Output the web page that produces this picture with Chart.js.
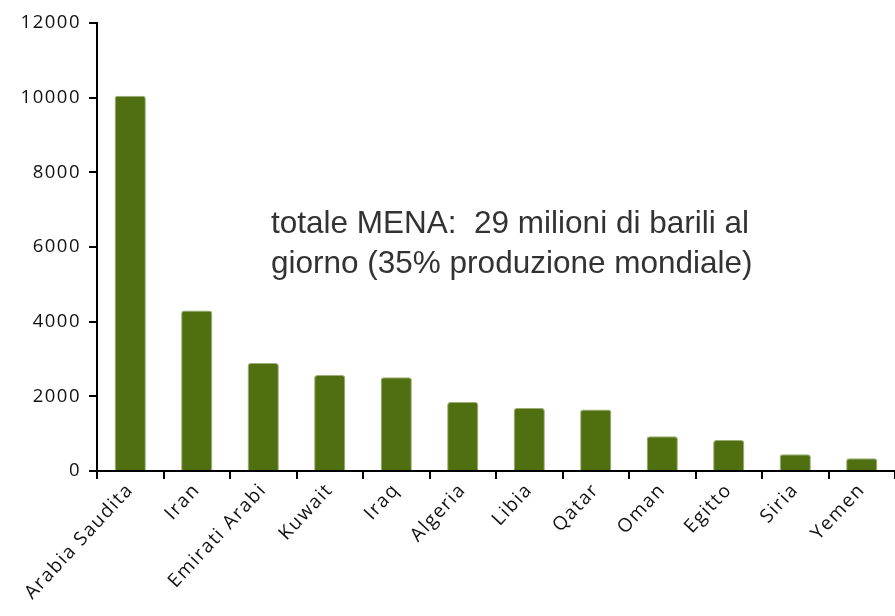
<!DOCTYPE html>
<html>
<head>
<meta charset="utf-8">
<script src="https://cdn.jsdelivr.net/npm/chart.js@4"></script>
<style>
  html, body { margin: 0; padding: 0; background: #fff; }
  #wrap { position: relative; width: 895px; height: 616px; }
</style>
</head>
<body>
<div id="wrap"><canvas id="theChart" width="895" height="616"></canvas></div>
<script>
// produzione di petrolio, migliaia di barili al giorno
const paesi = ["Arabia Saudita", "Iran", "Emirati Arabi", "Kuwait", "Iraq", "Algeria",
               "Libia", "Qatar", "Oman", "Egitto", "Siria", "Yemen"]
const produzione = [10050, 4300, 2890, 2570, 2510, 1850, 1690, 1650, 930, 830, 450, 340]
const yTicks = [0, 2000, 4000, 6000, 8000, 10000, 12000]
const nota = ["totale MENA:  29 milioni di barili al", "giorno (35% produzione mondiale)"]

const tickFont = { family: "Open Sans", size: 18.5 }

// spaziatura lettere delle etichette (tipo Calibri largo) + testo in mezzo
const notaPlugin = {
  id: "nota",
  beforeDraw(chart) {
    chart.ctx.letterSpacing = "1.5px"
  },
  afterDraw(chart) {
    const c = chart.ctx
    c.save()
    c.letterSpacing = "0px"
    c.fillStyle = "#333333"
    c.font = "31.5px 'Liberation Sans', Arial, sans-serif"
    c.textBaseline = "alphabetic"
    c.fillText(nota[0], 271, 233)
    c.fillText(nota[1], 271, 273)
    c.restore()
  }
}

const ctx = document.getElementById("theChart")
new Chart(ctx, {
  type: "bar",
  data: {
    labels: paesi,
    datasets: [{
      data: produzione,
      backgroundColor: "#4f6f10",
      borderColor: "#9cae78",
      borderWidth: 1,
      borderRadius: 3,
      borderSkipped: "bottom",
      categoryPercentage: 1,
      barPercentage: 0.47
    }]
  },
  options: {
    responsive: false,
    animation: false,
    layout: { padding: { top: 23, right: 0, left: 0, bottom: 0 } },
    plugins: { legend: { display: false }, tooltip: { enabled: false } },
    scales: {
      x: {
        offset: true,
        grid: { offset: true, drawOnChartArea: false, tickLength: 8, color: "#000", lineWidth: 2 },
        border: { color: "#000", width: 2 },
        ticks: { color: "#111", font: { family: "Open Sans", size: 19 }, minRotation: 47, maxRotation: 47, padding: 0 },
        afterFit(scale) { scale.height = 145 }
      },
      y: {
        min: 0,
        max: 12000,
        afterBuildTicks(scale) { scale.ticks = yTicks.map(v => ({ value: v })) },
        grid: { drawOnChartArea: false, tickLength: 8, color: "#000", lineWidth: 2 },
        border: { color: "#000", width: 2 },
        ticks: { color: "#111", font: tickFont, padding: 8, callback: v => String(v) },
        afterFit(scale) { scale.width = 97 }
      }
    }
  },
  plugins: [notaPlugin]
})
</script>
</body>
</html>
